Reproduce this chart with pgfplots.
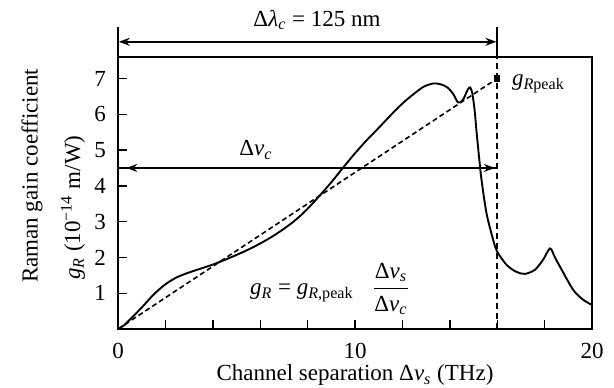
\documentclass[border=0pt]{standalone}
\usepackage{pgfplots}
\pgfplotsset{compat=1.18}
\usepackage{fontspec}
\setmainfont{Liberation Serif}
\usetikzlibrary{arrows.meta}
\begin{document}
\fontsize{11.5}{13.5}\selectfont
\begin{tikzpicture}[>={Stealth[length=5.5pt,width=4pt]}]
\useasboundingbox (-59pt,-29pt) rectangle (248pt,164.5pt);
\begin{axis}[
  at={(0,0)}, anchor=south west, scale only axis,
  width=237pt, height=136pt,
  xmin=0, xmax=20, ymin=0, ymax=7.6,
  xtick={0,10,20}, minor xtick={2,4,6,8,12,14,16,18},
  ytick={1,2,3,4,5,6,7},
  tick pos=left, tick align=inside,
  major tick length=4.5pt, minor tick length=4.5pt,
  axis line style={line width=0.8pt},
  every tick/.style={black, line width=0.7pt},
  /pgf/number format/assume math mode=true,
  xticklabel style={yshift=-3pt},
  yticklabel style={xshift=-2pt},
  clip=false,
]
\addplot[black, line width=0.95pt, smooth, tension=0.5] coordinates {
(0,0) (0.25,0.1) (0.5,0.26) (1,0.6) (1.5,0.96) (2,1.25) (2.5,1.45)
(3,1.58) (3.5,1.69) (4,1.8) (4.5,1.93) (5,2.07) (5.5,2.22) (6,2.39)
(6.5,2.58) (7,2.8) (7.5,3.05) (8,3.36) (8.5,3.72) (9,4.1) (9.5,4.51)
(10,4.91) (10.5,5.28) (11,5.62) (11.5,5.97) (12,6.3) (12.5,6.58)
(12.9,6.77) (13.3,6.86) (13.6,6.84) (13.9,6.75) (14.15,6.56) (14.35,6.33)
(14.55,6.4) (14.75,6.68) (14.86,6.75) (14.95,6.58) (15.05,6.1) (15.13,5.5)
(15.25,4.7) (15.34,4.16) (15.55,3.23) (15.83,2.49) (16,2.16) (16.4,1.79)
(16.8,1.6) (17.17,1.54) (17.6,1.66) (17.95,1.95) (18.23,2.25) (18.45,1.98)
(18.7,1.68) (19.2,1.1) (19.6,0.83) (19.92,0.70) (20,0.68)
};
\addplot[black, line width=0.8pt, dash pattern=on 2.5pt off 1.6pt] coordinates {(0,0) (16,7)};
\addplot[black, only marks, mark=square*, mark size=1.3pt] coordinates {(16,7)};
\draw[line width=0.8pt, dash pattern=on 3pt off 2pt] (axis cs:16,0) -- (axis cs:16,7.6);
\draw[line width=0.8pt] (axis cs:0,4.5) -- (axis cs:16,4.5);
\draw[line width=0.8pt, <->] (axis cs:0.35,4.5) -- (axis cs:15.9,4.5);
\end{axis}
% top arrow
\draw[line width=0.8pt] (0,136pt) -- (0,151pt);
\draw[line width=0.8pt] (189.6pt,136pt) -- (189.6pt,151pt);
\draw[line width=0.8pt, <->] (0.4pt,143.6pt) -- (189.2pt,143.6pt);
\node at (99.5pt,154.5pt) {Δ\textit{λ}\textsubscript{\textit{c}} = 125 nm};
% labels
\node at (69pt,89.5pt) {Δ\textit{ν}\textsubscript{\textit{c}}};
\node[anchor=west] at (193pt,122.5pt) {\textit{g}\textsubscript{\textit{R}peak}};
\node[anchor=west] at (62pt,20pt) {\textit{g}\textsubscript{\textit{R}} = \textit{g}\textsubscript{\textit{R},peak}\hspace{0.8em}$\displaystyle\frac{\mbox{Δ\textit{ν}\textsubscript{\textit{s}}}}{\mbox{Δ\textit{ν}\textsubscript{\textit{c}}}}$};
\node at (118.5pt,-23pt) {Channel separation Δ\textit{ν}\textsubscript{\textit{s}} (THz)};
\node[rotate=90, anchor=west] at (-43pt,19pt) {Raman gain coefficient};
\node[rotate=90, anchor=west] at (-22.5pt,20.5pt) {\textit{g}\textsubscript{\textit{R}} (10\textsuperscript{−14} m/W)};
\end{tikzpicture}
\end{document}
